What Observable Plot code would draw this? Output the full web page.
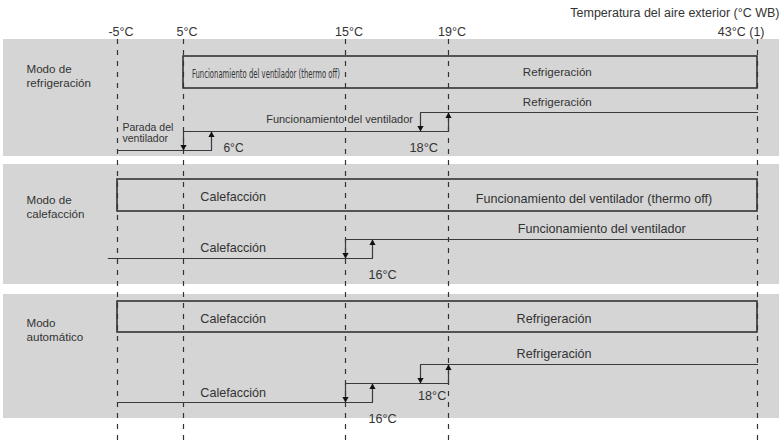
<!DOCTYPE html>
<html><head><meta charset="utf-8">
<script src="https://cdn.jsdelivr.net/npm/d3@7"></script>
<script src="https://cdn.jsdelivr.net/npm/@observablehq/plot@0.6"></script>
<style>body{margin:0;background:#fff}</style>
</head><body><div id="chart"></div>
<script>
// Temperature ticks (°C WB)
const tempTicks = [-5, 5, 15, 19];
const tickLabels = ["-5°C", "5°C", "15°C", "19°C"];
const lastTick = [43];
const lastTickLabel = ["43°C (1)"];
const title = "Temperatura del aire exterior (°C WB)";

// Schematic vertical positions (diagram units, top-down)
const panelTop = [39, 164, 294];
const panelBottom = [156, 284, 418];
const panelNames = ["Modo de\nrefrigeración", "Modo de\ncalefacción", "Modo\nautomático"];
const panelNameY = [75, 206, 329];

// Mode boxes (thermo on/off ranges)
const boxFrom = [5, -5, -5];
const boxTo = [43, 43, 43];
const boxTop = [56, 179, 301];
const boxBottom = [88, 211, 332];

// Hysteresis paths: id, temperature, level
const pathId = ["a","a","a","b","b","b","b","c","c","c","d","d","d","e","e","e","f","f","f","g","g","g","g","h","h","h"];
const pathT  = [-5, 6, 6, 5, 5, 19, 19, 18, 18, 43, -6.4, 16, 16, 15, 15, 43, -5, 16, 16, 15, 15, 19, 19, 18, 18, 43];
const pathY  = [150,150,131,150,131,131,112,131,112,112,258,258,239,258,239,239,402,402,383,402,383,383,364,383,364,364];

// Arrow tips
const upT = [6, 19, 16, 16, 19];
const upY = [131, 112, 239, 383, 364];
const downT = [5, 18, 15, 15, 18];
const downY = [150, 131, 258, 402, 383];

// Labels (centred)
const centerText = ["Refrigeración", "Refrigeración", "Funcionamiento del ventilador",
  "Funcionamiento del ventilador (thermo off)", "Funcionamiento del ventilador",
  "Refrigeración", "Refrigeración"];
const centerT = [27.45, 27.45, 14.6, 30.3, 30.9, 27.2, 27.2];
const centerY = [72, 102, 119, 198, 228, 318, 353];

// Labels (left-aligned)
const leftText = ["Parada del\nventilador", "6°C", "18°C", "Calefacción", "Calefacción", "16°C",
  "Calefacción", "Calefacción", "18°C", "16°C"];
const leftT = [-4.24, 6.8, 17.54, 5.6, 5.6, 15.85, 5.6, 5.6, 17.9, 15.85];
const leftY = [132.5, 148, 147.5, 196, 247, 274, 318, 392, 395, 418];

const condensedText = ["Funcionamiento del ventilador (thermo off)"];
const condensedT = [5.3];
const condensedY = [74];

const idx = a => a.map((_, i) => i);
const ink = "#333";

const centerMark = (ids, size) => Plot.text(ids, {x: i => centerT[i], y: i => centerY[i], text: i => centerText[i], fill: ink, fontSize: size});
const leftMark = (ids, size, lh = 1) => Plot.text(ids, {x: i => leftT[i], y: i => leftY[i], text: i => leftText[i], textAnchor: "start", fill: ink, fontSize: size, lineHeight: lh});

const chart = Plot.plot({
  width: 779, height: 442,
  marginTop: 0, marginBottom: 0, marginRight: 0, marginLeft: 3,
  style: {fontFamily: "'Liberation Sans', Arial, Helvetica, sans-serif", fontSize: "12px", background: "#fff"},
  x: {type: "linear", domain: [-5, 5, 6, 15, 16, 18, 19, 43], range: [117, 183, 211, 345, 372, 420, 448, 757], axis: null},
  y: {domain: [0, 442], range: [0, 442], axis: null},
  marks: [
    Plot.rect(idx(panelTop), {y1: i => panelTop[i], y2: i => panelBottom[i], fill: "#d5d5d5"}),
    Plot.ruleX(tempTicks.concat(lastTick), {x: d => d, y1: 39, y2: 442, stroke: ink, strokeWidth: 1.2, strokeDasharray: "5,6"}),
    Plot.rect(idx(boxFrom), {x1: i => boxFrom[i], x2: i => boxTo[i], y1: i => boxTop[i], y2: i => boxBottom[i], fill: "none", stroke: ink, strokeWidth: 1.6}),
    Plot.line(idx(pathT), {x: i => pathT[i], y: i => pathY[i], z: i => pathId[i], stroke: "#3a3a3a", strokeWidth: 1.2}),
    Plot.dot(idx(upT), {x: i => upT[i], y: i => upY[i], symbol: "triangle", r: 2.3, fill: "#111", stroke: "none", dy: 3.6}),
    Plot.dot(idx(downT), {x: i => downT[i], y: i => downY[i], symbol: "triangle", r: 2.3, fill: "#111", stroke: "none", rotate: 180, dy: -3.6}),
    Plot.text(condensedText, {x: (d, i) => condensedT[i], y: (d, i) => condensedY[i], text: d => d, textAnchor: "start", fill: ink, fontSize: 12, fontFamily: "'Liberation Sans Narrow', 'DejaVu Sans Condensed', sans-serif"}),
    centerMark([0, 1], 11.6),
    centerMark([2], 11.0),
    centerMark([3, 4, 5, 6], 12.6),
    leftMark([0], 10.5, 1.1),
    leftMark([1], 12),
    leftMark([2], 12.8),
    leftMark([3, 4, 5, 6, 7, 8, 9], 12.6),
    Plot.text(panelNames, {frameAnchor: "left", y: (d, i) => panelNameY[i], text: d => d, textAnchor: "start", dx: 23, fill: ink, fontSize: 11.6, lineHeight: 1.25}),
    Plot.text(tickLabels, {x: (d, i) => tempTicks[i], y: 31, text: d => d, fill: ink, fontSize: 12.5, dx: 3.5}),
    Plot.text(lastTickLabel, {x: (d, i) => lastTick[i], y: 31, text: d => d, textAnchor: "end", fill: ink, fontSize: 12.5, dx: 7}),
    Plot.text([title], {frameAnchor: "top-right", lineAnchor: "middle", text: d => d, dy: 12.5, fill: ink, fontSize: 12.5})
  ]
});
document.getElementById("chart").appendChild(chart);
// condense the small in-box label (first occurrence) to its printed width
const small = [...chart.querySelectorAll("text")].find(t => t.textContent === condensedText[0]);
if (small) {
  small.setAttribute("textLength", 148);
  small.setAttribute("lengthAdjust", "spacingAndGlyphs");
}
</script>
</body></html>
